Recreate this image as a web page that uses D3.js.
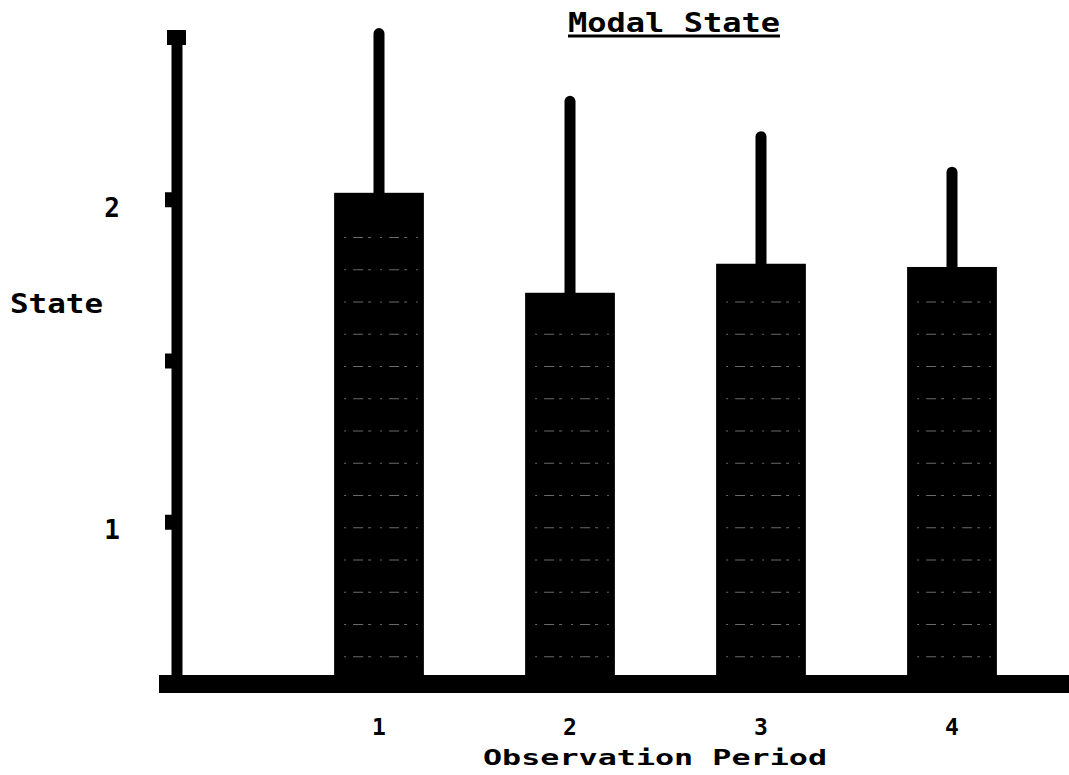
<!DOCTYPE html>
<html lang="en">
    <head>
        <meta charset="utf-8">
        <title>Modal State</title>
        <script type="text/javascript" src="https://d3js.org/d3.v7.min.js"></script>
        <style type="text/css">
            body{
                margin: 0;
                background-color: white;
            }
            text{
                font-family: "DejaVu Sans Mono", "Liberation Mono", monospace;
                font-weight: bold;
                fill: black;
            }
        </style>
    </head>
    <body>
        <script type="text/javascript">

        //chart data
        const periods = ["1", "2", "3", "4"];
        const means = [2.02, 1.71, 1.80, 1.79];   //bar heights
        const sds = [0.50, 0.60, 0.40, 0.30];     //error bar above each bar
        const yTickValues = [1, 1.5, 2];
        const yLabelValues = [1, 2];

        const width = 1069;
        const height = 775;

        const data = periods.map((p, i) => ({period: p, mean: means[i], sd: sds[i]}));

        //SCALES
        const xScale = d3.scaleBand()
                        .domain(periods)
                        .range([283.5, 1047.5])
                        .paddingInner(0.53)
                        .paddingOuter(0.265);

        const yScale = d3.scaleLinear()
                        .domain([0.5, 2.5])
                        .range([683, 38]);

        //SVG
        const svg = d3.select("body")
                    .append("svg")
                    .attr("width", width)
                    .attr("height", height);

        //faint scan lines inside the bars (every 0.1)
        const scanVals = d3.range(6, 25).map(k => k / 10);

        //BARS
        svg.selectAll("rect.bar")
            .data(data)
            .enter()
            .append("rect")
            .attr("class", "bar")
            .attr("x", d => xScale(d.period))
            .attr("y", d => yScale(d.mean))
            .attr("width", xScale.bandwidth())
            .attr("height", d => yScale(0.5) - yScale(d.mean))
            .attr("fill", "black");

        data.forEach(d => {
            svg.selectAll(null)
                .data(scanVals.filter(v => v < d.mean - 0.05))
                .enter()
                .append("line")
                .attr("x1", xScale(d.period) + 10)
                .attr("x2", xScale(d.period) + xScale.bandwidth() - 6)
                .attr("y1", v => yScale(v) + 6)
                .attr("y2", v => yScale(v) + 6)
                .attr("stroke", "#6a6a6a")
                .attr("stroke-width", 1)
                .attr("stroke-dasharray", "2,7,10,5,3,9");
        });

        //ERROR BARS (upper only)
        svg.selectAll("line.err")
            .data(data)
            .enter()
            .append("line")
            .attr("class", "err")
            .attr("x1", d => xScale(d.period) + xScale.bandwidth() / 2)
            .attr("x2", d => xScale(d.period) + xScale.bandwidth() / 2)
            .attr("y1", d => yScale(d.mean))
            .attr("y2", d => yScale(d.mean + d.sd) + 2)
            .attr("stroke", "black")
            .attr("stroke-width", 11)
            .attr("stroke-linecap", "round");

        //Y AXIS
        const leftAxis = d3.axisLeft(yScale)
                           .tickValues(yTickValues)
                           .tickSize(12)
                           .tickFormat(d => yLabelValues.includes(d) ? d : "");

        const yAxisG = svg.append("g")
            .attr("transform", "translate(177,0)")
            .call(leftAxis);

        yAxisG.select(".domain").remove();
        yAxisG.selectAll(".tick line")
            .attr("stroke", "black")
            .attr("stroke-width", 15);
        yAxisG.selectAll(".tick text")
            .attr("x", -57)
            .attr("y", 8)
            .attr("dy", "0.35em")
            .style("font-size", "26px")
            .attr("text-anchor", "end");

        //axis spine
        svg.append("line")
            .attr("x1", 177).attr("x2", 177)
            .attr("y1", yScale(2.5) - 8)
            .attr("y2", yScale(0.5))
            .attr("stroke", "black")
            .attr("stroke-width", 11);

        //top cap
        svg.append("rect")
            .attr("x", 167)
            .attr("y", yScale(2.5) - 8)
            .attr("width", 19)
            .attr("height", 15)
            .attr("fill", "black");

        //X AXIS
        svg.append("line")
            .attr("x1", 159).attr("x2", width)
            .attr("y1", yScale(0.5) + 1)
            .attr("y2", yScale(0.5) + 1)
            .attr("stroke", "black")
            .attr("stroke-width", 18);

        const bottomAxis = d3.axisBottom(xScale)
                             .tickSize(0)
                             .tickPadding(0);

        const xAxisG = svg.append("g")
            .attr("transform", "translate(0,735)")
            .call(bottomAxis);

        xAxisG.select(".domain").remove();
        xAxisG.selectAll(".tick text")
            .attr("y", 0)
            .attr("dy", 0)
            .style("font-size", "23px");

        //LABELS - stretched to the wide pixel font of the original
        svg.append("text")
            .attr("x", 483)
            .attr("y", 765)
            .style("font-size", "21px")
            .attr("textLength", 344)
            .attr("lengthAdjust", "spacingAndGlyphs")
            .text("Observation Period");

        svg.append("text")
            .attr("x", 10)
            .attr("y", 313)
            .style("font-size", "27px")
            .attr("textLength", 93)
            .attr("lengthAdjust", "spacingAndGlyphs")
            .text("State");

        svg.append("text")
            .attr("x", 568)
            .attr("y", 32)
            .style("font-size", "27px")
            .attr("textLength", 212)
            .attr("lengthAdjust", "spacingAndGlyphs")
            .text("Modal State");

        //title underline
        svg.append("line")
            .attr("x1", 568).attr("x2", 780)
            .attr("y1", 36).attr("y2", 36)
            .attr("stroke", "black")
            .attr("stroke-width", 3);

        </script>
    </body>
</html>
